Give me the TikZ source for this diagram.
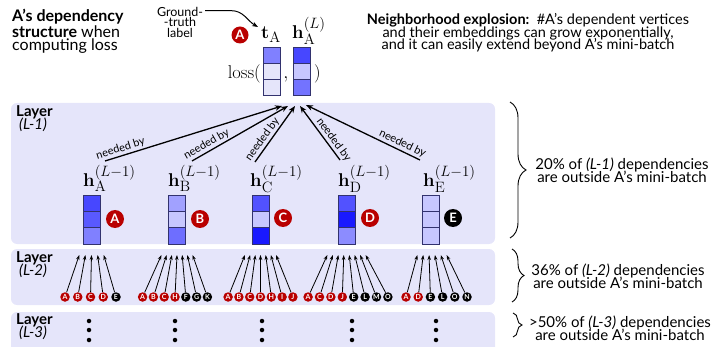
\RequirePackage{fix-cm}
\documentclass[tikz,border=0pt]{standalone}
\usepackage[no-math]{fontspec}
\setmainfont{Lato}
\DeclareMathSizes{18.5}{18.5}{15}{11}
\usetikzlibrary{arrows.meta,decorations.pathreplacing}
\definecolor{panel}{RGB}{229,229,250}
\definecolor{cred}{RGB}{185,0,0}
\definecolor{cellline}{RGB}{50,50,110}
\newcommand{\myfs}[1]{\fontsize{#1}{#1}\selectfont}
\newcommand{\myvec}[7]{%
  \node[cell,minimum height=#4,fill=#5,anchor=north] (#1a) at (#2,#3) {};
  \node[cell,minimum height=#4,fill=#6,anchor=north] (#1b) at (#1a.south) {};
  \node[cell,minimum height=#4,fill=#7,anchor=north] (#1c) at (#1b.south) {};}
\begin{document}
\begin{tikzpicture}[x=1pt,y=-1pt,
  panelbg/.style={fill=panel,rounded corners=6pt},
  cell/.style={draw=cellline,line width=0.8pt,minimum width=17pt,inner sep=0,outer sep=0},
  bigcirc/.style={circle,fill=cred,text=white,inner sep=0,minimum size=17pt,font=\bfseries\myfs{13}},
  smallcirc/.style={circle,inner sep=0,minimum size=9.5pt,text=white,font=\bfseries\myfs{7}},
  needarrow/.style={-{Stealth[length=7pt,width=5.5pt]},line width=1.3pt},
  fanarrow/.style={-{Stealth[length=5pt,width=3.5pt]},line width=0.8pt},
  needlab/.style={font=\myfs{11},sloped,above,inner sep=1.5pt},
  hlab/.style={anchor=base west,inner sep=0,font=\myfs{18.5}},
  laylab/.style={anchor=north west,align=left,inner sep=0,font=\myfs{15}},
  sidetxt/.style={align=center,inner sep=0,font=\myfs{15}},
  brc/.style={decorate,line width=0.9pt},
  ldot/.style={circle,fill=black,inner sep=0,minimum size=4.5pt}]
\useasboundingbox (0,0) rectangle (719,347);

% panels
\fill[panelbg] (11,103) rectangle (495,244);
\fill[panelbg] (11,249) rectangle (495,305);
\fill[panelbg] (11,312) rectangle (495,353);

% top-left text
\node[anchor=north west,align=left,inner sep=0,font=\fontsize{16}{13.5}\selectfont] (title) at (12,9)
  {\textbf{A's dependency}\\\textbf{structure} when\\computing loss};

% top-right text
\node[align=center,inner sep=0,font=\myfs{14.5}] (expl) at (528,33)
  {\textbf{Neighborhood explosion:}\ \ \#A's dependent vertices\\[-2pt]and their embeddings can grow exponentially,\\[-2pt]and it can easily extend beyond A's mini-batch};

% ground truth
\node[align=center,inner sep=0,font=\myfs{12.5}] (gt) at (180,22) {Ground-\\[-2pt]-truth\\[-2pt]label};
\node[bigcirc] (topA) at (240,35) {A};
\node[hlab] (tA) at (261,39) {$\mathbf{t}_{\mathrm{A}}$};
\node[hlab] (hL) at (292,39) {$\mathbf{h}_{\mathrm{A}}^{(L)}$};
\draw[-{Stealth[length=6pt,width=4.5pt]},line width=1pt]
  ([xshift=2pt,yshift=-4pt]gt.north east) -- ++(26,0) to[out=0,in=150] ([shift={(-3,-12)}]tA.base west);

% loss
\node[anchor=base east,inner sep=0,font=\myfs{18.5}] (loss) at (261,79) {$\mathrm{loss}($};
\node[anchor=base,inner sep=0,font=\myfs{18.5}] (comma) at (286,79) {$,$};
\node[anchor=base west,inner sep=0,font=\myfs{18.5}] (rpar) at (314,79) {$)$};
\myvec{lv}{272}{47}{16.3pt}{blue!50!white}{panel}{panel}
\myvec{hv}{302}{47}{16.3pt}{blue!72!white}{blue!22!white}{blue!55!white}

% layer labels
\node[laylab] (lay1) at (16,105) {\textbf{Layer}\\[-2pt]\hspace*{3pt}\textit{(L-1)}};
\node[laylab] (lay2) at (16,251) {\textbf{Layer}\\[-2pt]\hspace*{3pt}\textit{(L-2)}};
\node[laylab] (lay3) at (16,313) {\textbf{Layer}\\[-2pt]\hspace*{3pt}\textit{(L-3)}};

% L-1 vectors
\myvec{vA}{91.5}{195}{16.33pt}{blue!72!white}{blue!65!white}{blue!50!white}
\myvec{vB}{177}{195}{16.33pt}{blue!37!white}{blue!22!white}{blue!57!white}
\myvec{vC}{260.5}{195}{16.33pt}{blue!68!white}{blue!22!white}{blue!90!white}
\myvec{vD}{346.5}{195}{16.33pt}{blue!68!white}{blue!90!white}{blue!45!white}
\myvec{vE}{430.5}{195}{16.33pt}{blue!22!white}{blue!22!white}{blue!22!white}

\node[hlab] (hA) at (83,186.5) {$\mathbf{h}_{\mathrm{A}}^{(L-1)}$};
\node[hlab] (hB) at (168,186.5) {$\mathbf{h}_{\mathrm{B}}^{(L-1)}$};
\node[hlab] (hC) at (250,187) {$\mathbf{h}_{\mathrm{C}}^{(L-1)}$};
\node[hlab] (hD) at (338,187) {$\mathbf{h}_{\mathrm{D}}^{(L-1)}$};
\node[hlab] (hE) at (423,187) {$\mathbf{h}_{\mathrm{E}}^{(L-1)}$};

\node[bigcirc,minimum size=18pt] (cA) at (115,219) {A};
\node[bigcirc,minimum size=18pt] (cB) at (200,219) {B};
\node[bigcirc,minimum size=18pt] (cC) at (283,218) {C};
\node[bigcirc,minimum size=18pt] (cD) at (370,218) {D};
\node[bigcirc,minimum size=18pt,fill=black] (cE) at (453,218) {E};

\coordinate (tipA) at (282,106);
\coordinate (tipB) at (288,106);
\coordinate (tipC) at (295,106);
\coordinate (tipD) at (300,106);
\coordinate (tipE) at (306,105);
\draw[needarrow] ([shift={(22,-25.5)}]hA.base west) -- node[needlab,pos=0.1] {needed by} (tipA);
\draw[needarrow] ([shift={(24,-25.5)}]hB.base west) -- node[needlab,pos=0.19] {needed by} (tipB);
\draw[needarrow] ([shift={(5,-25)}]hC.base west) -- node[needlab,pos=0.33] {needed by} (tipC);
\draw[needarrow] ([shift={(2,-27)}]hD.base west) -- node[needlab,pos=0.3] {needed by} (tipD);
\draw[needarrow] ([shift={(-3,-27)}]hE.base west) -- node[needlab,pos=0.18] {needed by} (tipE);

% L-2 fans
\foreach \g/\cc/\sp/\tc/\n/\lst in {
  1/90.5/12.75/91.5/5/{A/cred,B/cred,C/cred,D/cred,E/black},
  2/175/10.8/177/7/{A/cred,B/cred,C/cred,H/cred,F/black,G/black,K/black},
  3/260.5/10.8/260.5/7/{A/cred,B/cred,C/cred,D/cred,H/cred,I/cred,J/cred},
  4/348/11.4/346.5/8/{A/cred,C/cred,D/cred,J/cred,E/black,L/black,M/black,O/black},
  5/436.5/12.2/432/6/{A/cred,D/cred,E/black,L/black,O/black,N/black}}
{
  \foreach \l/\c [count=\i] in \lst {
    \pgfmathsetmacro{\xx}{\cc+(\i-(\n+1)/2)*\sp}
    \pgfmathsetmacro{\tx}{\tc+0.48*(\xx-\cc)}
    \node[smallcirc,fill=\c] (g\g c\i) at (\xx,297) {\l};
    \coordinate (g\g t\i) at (\tx,255);
    \draw[fanarrow] (g\g c\i) -- (g\g t\i);
  }
}

% L-3 dots
\foreach \x [count=\k] in {89,175,262,352,436} {
  \foreach \y [count=\j] in {321,330,340} {
    \node[ldot] (d\k\j) at (\x,\y) {};
  }
}

% braces and side texts
\draw[brc,decoration={brace,amplitude=16pt}] (510,102) -- (510,238);
\node[sidetxt] (s1) at (622,170) {20\% of \textit{(L-1)} dependencies\\[-2pt]are outside A's mini-batch};
\draw[brc,decoration={brace,amplitude=12pt}] (512,249) -- (512,302);
\node[sidetxt] (s2) at (618,276) {36\% of \textit{(L-2)} dependencies\\[-2pt]are outside A's mini-batch};
\draw[brc,decoration={brace,amplitude=9pt}] (513,313) -- (513,337);
\node[sidetxt] (s3) at (620,328) {>50\% of \textit{(L-3)} dependencies\\[-2pt]are outside A's mini-batch};
\end{tikzpicture}
\end{document}
